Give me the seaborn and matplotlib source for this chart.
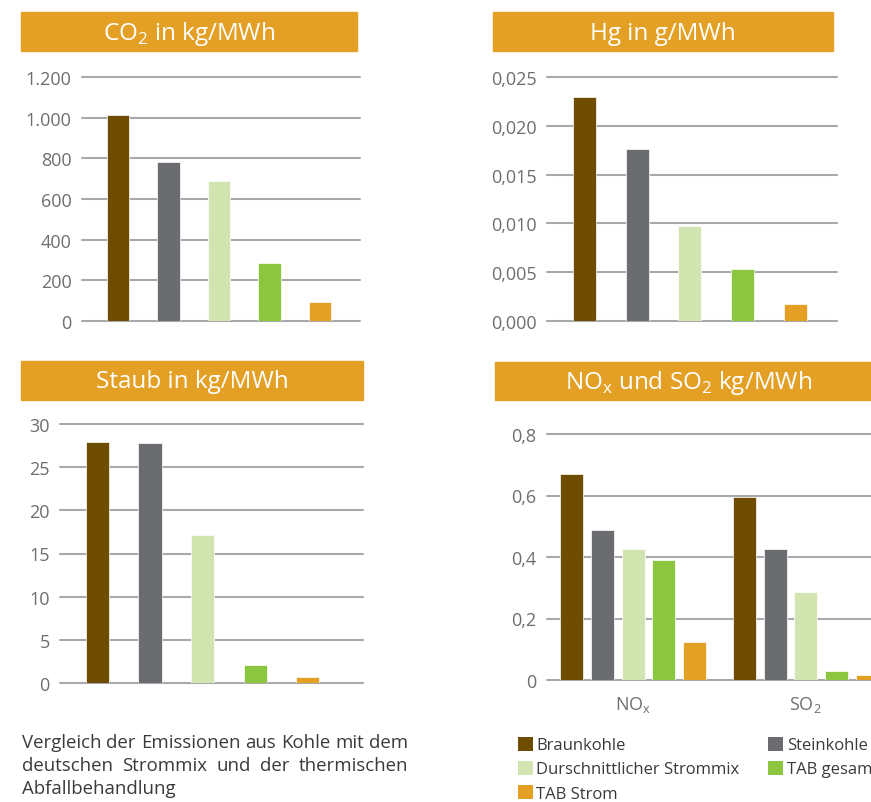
import matplotlib
matplotlib.use("Agg")
import matplotlib.pyplot as plt
import seaborn as sns
import pandas as pd
from matplotlib.patches import Rectangle, Patch

# ---------------- data ----------------
sources = ["Braunkohle", "Steinkohle", "Durschnittlicher Strommix", "TAB gesamt", "TAB Strom"]
colors = ["#6e4d00", "#6b6c70", "#d2e5b0", "#8cc63f", "#e3a025"]

co2_values = [1015, 780, 690, 283, 95]
co2_ticks = [0, 200, 400, 600, 800, 1000, 1200]
co2_labels = ["0", "200", "400", "600", "800", "1.000", "1.200"]

hg_values = [0.0230, 0.0176, 0.0097, 0.0053, 0.0017]
hg_ticks = [0.0, 0.005, 0.010, 0.015, 0.020, 0.025]
hg_labels = ["0,000", "0,005", "0,010", "0,015", "0,020", "0,025"]

staub_values = [27.9, 27.8, 17.1, 2.05, 0.66]
staub_ticks = [0, 5, 10, 15, 20, 25, 30]
staub_labels = ["0", "5", "10", "15", "20", "25", "30"]

pollutants = ["NOx", "SO2"]
pollutant_labels = [r"NO$_\mathregular{x}$", r"SO$_\mathregular{2}$"]
nox_values = [0.670, 0.488, 0.426, 0.390, 0.124]
so2_values = [0.596, 0.426, 0.286, 0.029, 0.017]
nox_ticks = [0, 0.2, 0.4, 0.6, 0.8]
nox_labels = ["0", "0,2", "0,4", "0,6", "0,8"]

titles = [r"CO$_\mathregular{2}$ in kg/MWh", "Hg in g/MWh", "Staub in kg/MWh",
          r"NO$_\mathregular{x}$ und SO$_\mathregular{2}$ kg/MWh"]
caption_lines = ["Vergleich der Emissionen aus Kohle mit dem",
                 "deutschen Strommix und der thermischen",
                 "Abfallbehandlung"]

# ---------------- style ----------------
sns.set_theme(style="white")
plt.rcParams["font.family"] = ["Open Sans", "DejaVu Sans"]
plt.rcParams["mathtext.fontset"] = "custom"
plt.rcParams["mathtext.rm"] = "Open Sans"

ORANGE = "#e3a025"
GRID = "#a7a9ac"
TICK = "#6d6e71"
TXT = "#3a3a3a"
W, H = 871, 803
fig = plt.figure(figsize=(W / 100, H / 100), dpi=100)
palette = dict(zip(sources, colors))


def px_axes(x0, x1, ytop, ybot):
    return fig.add_axes([x0 / W, 1 - ybot / H, (x1 - x0) / W, (ybot - ytop) / H])


def style_axes(ax, ticks, labels, xlim):
    ax.set_ylim(ticks[0], ticks[-1])
    ax.set_yticks(ticks)
    ax.set_yticklabels(labels)
    ax.set_xlim(*xlim)
    ax.set_xlabel("")
    ax.set_ylabel("")
    for s in ax.spines.values():
        s.set_visible(False)
    ax.set_axisbelow(True)
    ax.grid(axis="y", color=GRID, lw=1.5)
    ax.grid(axis="x", visible=False)
    for gl in ax.get_ygridlines():
        gl.set_clip_on(False)
    ax.tick_params(axis="y", length=0, pad=7.5, labelsize=13, labelcolor=TICK)
    ax.tick_params(axis="x", length=0)
    ax.patch.set_alpha(0)


def single(ax, vals, ticks, labels, xlim, width):
    df = pd.DataFrame({"Quelle": sources, "Wert": vals})
    sns.barplot(data=df, x="Quelle", y="Wert", hue="Quelle", order=sources,
                hue_order=sources, palette=palette, dodge=False, legend=False,
                width=width, saturation=1, edgecolor="white", linewidth=0.5, ax=ax)
    style_axes(ax, ticks, labels, xlim)
    ax.set_xticks([])


ax1 = px_axes(82, 360, 78, 322)
single(ax1, co2_values, co2_ticks, co2_labels, (-0.71, 4.79), 0.45)
ax2 = px_axes(547, 837, 78, 322)
single(ax2, hg_values, hg_ticks, hg_labels, (-0.71, 4.79), 0.44)
ax3 = px_axes(60, 363, 425, 684)
single(ax3, staub_values, staub_ticks, staub_labels, (-0.71, 5.05), 0.44)

ax4 = px_axes(547, 892, 435, 681)
rows = []
for p, vals in zip(pollutants, [nox_values, so2_values]):
    for s, v in zip(sources, vals):
        rows.append({"Schadstoff": p, "Quelle": s, "Wert": v})
df4 = pd.DataFrame(rows)
sns.barplot(data=df4, x="Schadstoff", y="Wert", hue="Quelle", order=pollutants,
            hue_order=sources, palette=palette, legend=False, width=0.89, gap=0.25,
            saturation=1, edgecolor="white", linewidth=0.5, ax=ax4)
style_axes(ax4, nox_ticks, nox_labels, (-0.5, 1.5))
ax4.set_xticks(range(len(pollutants)))
ax4.set_xticklabels(pollutant_labels)
ax4.tick_params(axis="x", pad=10, labelsize=13, labelcolor=TICK)

# ---------------- title banners ----------------
banners = [(21, 357, 13, 52, 189), (493, 833, 13, 52, 663),
           (21, 363, 362, 401, 192), (495, 900, 363, 401, 689)]
for (x0, x1, y0, y1, xc), t in zip(banners, titles):
    fig.patches.append(Rectangle((x0 / W, 1 - y1 / H), (x1 - x0) / W, (y1 - y0) / H,
                                 transform=fig.transFigure, color=ORANGE, zorder=0))
    fig.text(xc / W, 1 - ((y0 + y1) / 2 + 1) / H, t, color="white", fontsize=17.5,
             ha="center", va="center")

# ---------------- legend ----------------
order = [0, 2, 4, 1, 3]
handles = [Patch(facecolor=colors[i], edgecolor="none", label=sources[i]) for i in order]
fig.legend(handles=handles, loc="upper left", bbox_to_anchor=(511 / W, 1 - 731 / H),
           ncol=2, frameon=False, fontsize=12, handlelength=0.9, handleheight=0.9,
           handletextpad=0.2, columnspacing=1.75, labelspacing=0.45, borderaxespad=0,
           labelcolor=TXT)

# ---------------- justified caption ----------------
renderer = fig.canvas.get_renderer()
baselines = [748, 771, 794]
X0, X1 = 22, 408
for i, (line, yb) in enumerate(zip(caption_lines, baselines)):
    words = line.split()
    texts = [fig.text(0, 1 - yb / H, w, fontsize=13.4, color=TXT,
                      ha="left", va="baseline") for w in words]
    widths = [t.get_window_extent(renderer).width for t in texts]
    if i < len(caption_lines) - 1 and len(words) > 1:
        gap = (X1 - X0 - sum(widths)) / (len(words) - 1)
    else:
        gap = texts[0].get_fontsize() * 100 / 72 * 0.28
    x = X0
    for t, w in zip(texts, widths):
        t.set_x(x / W)
        x += w + gap

fig.savefig("out.png", dpi=100)
